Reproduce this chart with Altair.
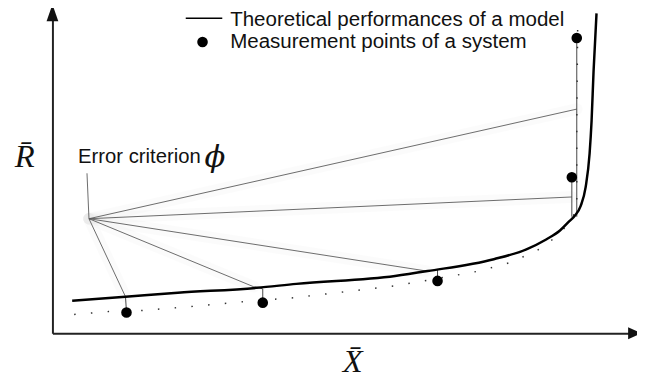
import altair as alt
import pandas as pd

# ---- data (abstract units: X-bar to the right, R-bar upwards) ----
curve_x = [20, 74, 127, 207, 247, 347, 380, 447, 480, 500, 514, 523, 529, 535, 540, 544, 546, 548, 551]
curve_y = [33, 37, 41, 46, 50, 58, 63, 75, 85, 95, 104, 113, 119, 129, 148, 182, 215, 265, 324]

dotted_x = [22, 57, 90, 140, 194, 245, 347, 399, 432, 465, 497, 510, 520, 527, 531, 531, 532]
dotted_y = [19, 22, 23, 27, 32, 36, 48, 57, 63, 72, 87, 98, 108, 117, 130, 215, 318]

meas_x = [75, 213, 390, 526, 531]
meas_y = [21, 31, 53, 158, 299]

origin_x, origin_y = 37, 116
ray_x = [74, 204, 379, 526, 531]
ray_y = [37, 47, 63, 138, 227]

proj_x1 = [74, 204, 213, 390, 526, 531]
proj_y1 = [37, 47, 45, 64, 158, 299]
proj_x2 = [75, 213, 213, 390, 526, 531]
proj_y2 = [21, 45, 31, 53, 118, 118]

leader_x = [35, 37]
leader_y = [162, 116]

legend_labels = ["Theoretical performances of a model", "Measurement points of a system"]
legend_text_x = [180, 180]
legend_text_y = [311, 289]
legend_line_x = [135, 172]
legend_line_y = [319]
legend_dot_x = [152]
legend_dot_y = [295]

label_text = ["Error criterion"]
label_x = [26]
label_y = [172]
phi_text = ["\u03d5"]
phi_x = [154]
phi_y = [168]

axis_titles = ["X\u0304", "R\u0304"]
axis_title_x = [304, -28]
axis_title_y = [-39, 168]

arrow_x = [590, 0]
arrow_y = [0, 324.5]
arrow_shape = ["M-1,-0.86L1,0L-1,0.86Z", "M-0.7,1L0,-1L0.7,1Z"]
arrow_size = [196, 289]

# ---- frames ----
curve = pd.DataFrame({"x": curve_x, "y": curve_y})
dotted = pd.DataFrame({"x": dotted_x, "y": dotted_y, "o": list(range(len(dotted_x)))})
meas = pd.DataFrame({"x": meas_x, "y": meas_y})
rays = pd.DataFrame({"x": [origin_x] * len(ray_x), "y": [origin_y] * len(ray_y), "x2": ray_x, "y2": ray_y})
proj = pd.DataFrame({"x": proj_x1, "y": proj_y1, "x2": proj_x2, "y2": proj_y2})
leader = pd.DataFrame({"x": [leader_x[0]], "y": [leader_y[0]], "x2": [leader_x[1]], "y2": [leader_y[1]]})
leg_text = pd.DataFrame({"x": legend_text_x, "y": legend_text_y, "t": legend_labels})
leg_line = pd.DataFrame({"x": [legend_line_x[0]], "x2": [legend_line_x[1]], "y": legend_line_y})
leg_dot = pd.DataFrame({"x": legend_dot_x, "y": legend_dot_y})
lab = pd.DataFrame({"x": label_x, "y": label_y, "t": label_text})
phi = pd.DataFrame({"x": phi_x, "y": phi_y, "t": phi_text})
atitles = pd.DataFrame({"x": axis_title_x, "y": axis_title_y, "t": axis_titles})
arrows = pd.DataFrame({"x": arrow_x, "y": arrow_y, "s": arrow_shape, "z": arrow_size})

xs = alt.Scale(domain=[0, 584], nice=False, zero=False)
ys = alt.Scale(domain=[0, 327], nice=False, zero=False)

ax_x = alt.Axis(title=None, domain=True, domainColor="#222", domainWidth=2, ticks=False,
                labels=False, grid=False)
ax_y = alt.Axis(title=None, domain=True, domainColor="#222", domainWidth=2, ticks=False,
                labels=False, grid=False)


def X(f="x"):
    return alt.X(f"{f}:Q", scale=xs, axis=ax_x)


def Y(f="y"):
    return alt.Y(f"{f}:Q", scale=ys, axis=ax_y)


shadow = alt.Chart(rays).mark_rule(color="#000", opacity=0.015, strokeWidth=12, strokeCap="round").encode(
    x=X(), y=Y(), x2="x2:Q", y2="y2:Q")
ray_l = alt.Chart(rays).mark_rule(color="#5a5a5a", strokeWidth=0.9).encode(
    x=X(), y=Y(), x2="x2:Q", y2="y2:Q")
proj_l = alt.Chart(proj).mark_rule(color="#444", strokeWidth=1).encode(
    x=X(), y=Y(), x2="x2:Q", y2="y2:Q")
leader_l = alt.Chart(leader).mark_rule(color="#5a5a5a", strokeWidth=0.9).encode(
    x=X(), y=Y(), x2="x2:Q", y2="y2:Q")
dot_l = alt.Chart(dotted).mark_line(color="#333", strokeWidth=1.5, strokeDash=[1.5, 15.5]).encode(
    x=X(), y=Y(), order="o:Q")
curve_l = alt.Chart(curve).mark_line(color="#000", strokeWidth=2.5, interpolate="monotone").encode(
    x=X(), y=Y())
pts = alt.Chart(meas).mark_point(filled=True, color="#000", size=115, opacity=1, shape="circle").encode(
    x=X(), y=Y())
arr = alt.Chart(arrows).mark_point(filled=True, color="#111", opacity=1).encode(
    x=X(), y=Y(), shape=alt.Shape("s:N", scale=None), size=alt.Size("z:Q", scale=None))
lg_line = alt.Chart(leg_line).mark_rule(color="#000", strokeWidth=1.5).encode(x=X(), x2="x2:Q", y=Y())
lg_dot = alt.Chart(leg_dot).mark_point(filled=True, color="#000", size=115, opacity=1).encode(x=X(), y=Y())
lg_text = alt.Chart(leg_text).mark_text(align="left", baseline="alphabetic", font="Liberation Sans",
                                        fontSize=20.8, color="#111").encode(x=X(), y=Y(), text="t:N")
lab_t = alt.Chart(lab).mark_text(align="left", baseline="alphabetic", font="Liberation Sans",
                                 fontSize=20.5, color="#111").encode(x=X(), y=Y(), text="t:N")
phi_t = alt.Chart(phi).mark_text(align="left", baseline="alphabetic", font="DejaVu Serif",
                                 fontStyle="italic", fontSize=31, color="#111").encode(x=X(), y=Y(), text="t:N")
ttl_t = alt.Chart(atitles).mark_text(align="center", baseline="alphabetic", font="Liberation Serif",
                                     fontStyle="italic", fontSize=33, color="#111").encode(x=X(), y=Y(), text="t:N")

chart = alt.layer(shadow, ray_l, leader_l, proj_l, dot_l, curve_l, pts, arr, lg_line, lg_dot, lg_text,
                  lab_t, phi_t, ttl_t).properties(
    width=584, height=327,
    autosize=alt.AutoSizeParams(type="none"),
    padding={"left": 45, "top": 0, "right": 8, "bottom": 48},
    background="#ffffff",
).configure_view(stroke=None)

chart.save("out.html", embed_options={"renderer": "svg", "actions": False})
